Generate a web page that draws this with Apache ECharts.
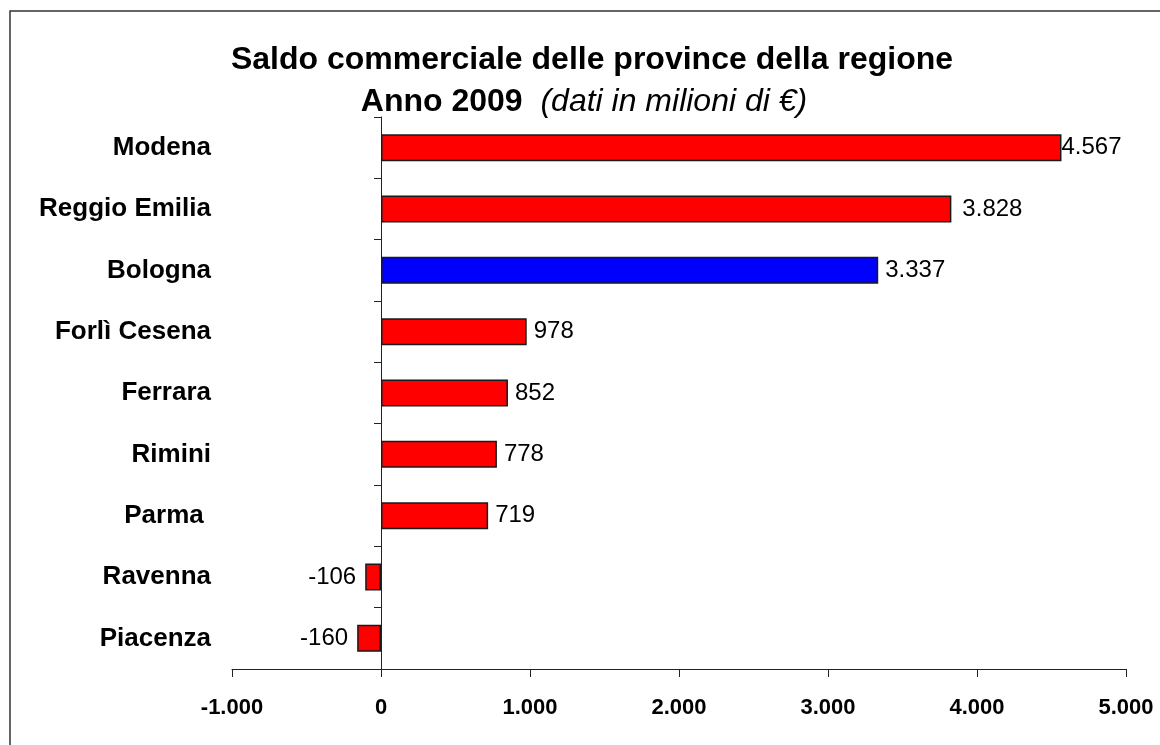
<!DOCTYPE html>
<html>
<head>
<meta charset="utf-8">
<script src="https://cdn.jsdelivr.net/npm/echarts@6/dist/echarts.min.js"></script>
<style>
  html, body { margin: 0; padding: 0; background: #fff; }
  #chart { width: 1160px; height: 745px; }
</style>
</head>
<body>
<div id="chart"></div>
<script>
// Province names, top to bottom
const provinces = ['Modena', 'Reggio Emilia', 'Bologna', 'Forlì Cesena', 'Ferrara', 'Rimini', 'Parma ', 'Ravenna', 'Piacenza'];
// Trade balance 2009, millions of euro
const saldo = [4567, 3828, 3337, 978, 852, 778, 719, -106, -160];
// Province drawn in the highlight colour
const highlighted = 'Bologna';
// Value axis ticks
const xMin = -1000;
const xMax = 5000;
const xStep = 1000;

const FONT = "'Liberation Sans', Arial, Helvetica, sans-serif";

// Italian number format: dot as thousands separator
function fmt(v) {
  const s = Math.abs(v).toString().replace(/\B(?=(\d{3})+(?!\d))/g, '.');
  return (v < 0 ? '-' : '') + s;
}

// gap between bar end and its value label
const labelGap = { 'Modena': 0, 'Reggio Emilia': 11 };

const barData = provinces.map((name, i) => {
  const v = saldo[i];
  const item = {
    value: v,
    itemStyle: { color: name === highlighted ? '#0000ff' : '#ff0000' }
  };
  if (v < 0) {
    item.label = { position: 'left', distance: 9 };
  } else if (labelGap[name] !== undefined) {
    item.label = { distance: labelGap[name] };
  }
  return item;
});

const chart = echarts.init(document.getElementById('chart'), null, { renderer: 'canvas' });

chart.setOption({
  animation: false,
  backgroundColor: '#ffffff',
  graphic: [
    {
      type: 'rect',
      shape: { x: 10, y: 11, width: 1170, height: 760 },
      style: { fill: 'none', stroke: '#333', lineWidth: 1.5 },
      silent: true
    },
    {
      type: 'text',
      x: 592, y: 60,
      style: {
        text: 'Saldo commerciale delle province della regione',
        font: 'bold 32px ' + FONT,
        fill: '#000',
        align: 'center',
        verticalAlign: 'middle'
      }
    },
    {
      type: 'text',
      x: 584, y: 102,
      style: {
        text: '{b|Anno 2009}{i|  (dati in milioni di €)}',
        align: 'center',
        verticalAlign: 'middle',
        rich: {
          b: { font: 'bold 32px ' + FONT, fill: '#000' },
          i: { font: 'italic 32px ' + FONT, fill: '#000' }
        }
      }
    }
  ],
  grid: { left: 232, right: 34, top: 117, bottom: 76, containLabel: false },
  xAxis: {
    type: 'value',
    min: xMin,
    max: xMax,
    interval: xStep,
    axisLine: { show: true, onZero: false, lineStyle: { color: '#222', width: 1 } },
    axisTick: { show: true, length: 8, lineStyle: { color: '#222', width: 1 } },
    splitLine: { show: false },
    axisLabel: {
      formatter: fmt,
      fontFamily: FONT,
      fontWeight: 'bold',
      fontSize: 22,
      color: '#000',
      margin: 28
    }
  },
  yAxis: [
    {
      // category names at the left edge of the plot
      type: 'category',
      data: provinces,
      inverse: true,
      position: 'left',
      axisLine: { show: false, onZero: false },
      axisTick: { show: false },
      axisLabel: {
        fontFamily: FONT,
        fontWeight: 'bold',
        fontSize: 26,
        color: '#000',
        margin: 21,
        padding: [7, 0, 0, 0]
      }
    },
    {
      // axis line and ticks crossing at zero
      type: 'category',
      data: provinces,
      inverse: true,
      position: 'left',
      axisLine: { show: true, onZero: true, lineStyle: { color: '#222', width: 1 } },
      axisTick: { show: true, length: 7, lineStyle: { color: '#222', width: 1 } },
      axisLabel: { show: false }
    }
  ],
  series: [
    {
      type: 'bar',
      yAxisIndex: 0,
      barWidth: '44%',
      data: barData,
      itemStyle: { borderColor: '#1a1a1a', borderWidth: 1.5 },
      label: {
        show: true,
        position: 'right',
        distance: 7,
        formatter: p => fmt(p.value),
        fontFamily: FONT,
        fontSize: 24,
        color: '#000'
      }
    }
  ]
});
</script>
</body>
</html>
